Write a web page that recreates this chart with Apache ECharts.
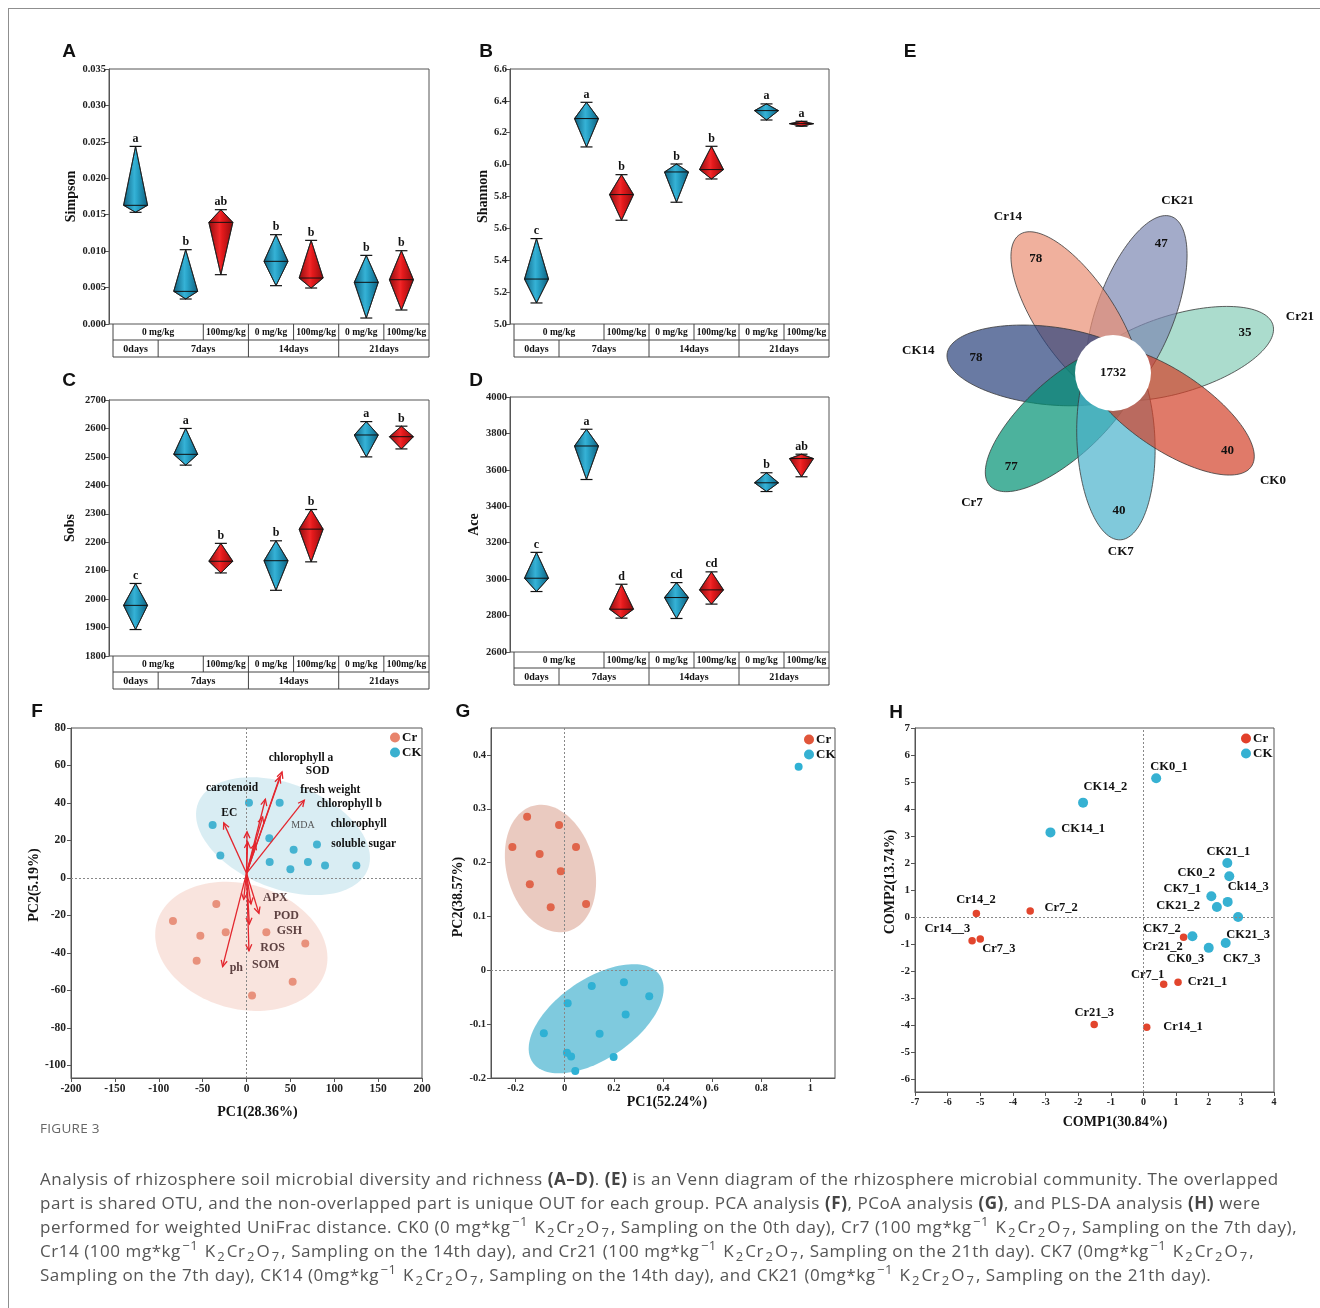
<!DOCTYPE html>
<html><head><meta charset="utf-8">
<script src="https://cdn.jsdelivr.net/npm/echarts@6/dist/echarts.min.js"></script>
<style>
html,body{margin:0;padding:0;background:#fff;}
#wrap{position:relative;width:1320px;height:1308px;overflow:hidden;background:#fff;}
#chart{position:absolute;left:0;top:0;width:1320px;height:1308px;}
#frame{position:absolute;left:8px;top:8px;width:1400px;height:1400px;border-top:1.5px solid #8f8f8f;border-left:1.5px solid #8f8f8f;pointer-events:none;}
#figlbl{position:absolute;left:40px;top:1119px;font-family:'Open Sans',Lato,sans-serif;font-size:13.5px;letter-spacing:0.3px;color:#666;}
#capbody{position:absolute;left:40px;top:1167px;font-family:'Open Sans',Lato,sans-serif;font-size:17px;letter-spacing:0.55px;line-height:24px;color:#555;white-space:nowrap;}
#capbody b{font-weight:bold;color:#444;}
#capbody sub,#capbody sup{font-size:13px;line-height:0;margin:0 1.5px;}
</style></head>
<body>
<div id="wrap">
<div id="chart"></div>
<div id="frame"></div>
<div id="figlbl">FIGURE 3</div>
<div id="capbody">Analysis of rhizosphere soil microbial diversity and richness <b>(A–D)</b>. <b>(E)</b> is an Venn diagram of the rhizosphere microbial community. The overlapped<br>part is shared OTU, and the non-overlapped part is unique OUT for each group. PCA analysis <b>(F)</b>, PCoA analysis <b>(G)</b>, and PLS-DA analysis <b>(H)</b> were<br>performed for weighted UniFrac distance. CK0 (0 mg*kg<sup>−1</sup> K<sub>2</sub>Cr<sub>2</sub>O<sub>7</sub>, Sampling on the 0th day), Cr7 (100 mg*kg<sup>−1</sup> K<sub>2</sub>Cr<sub>2</sub>O<sub>7</sub>, Sampling on the 7th day),<br>Cr14 (100 mg*kg<sup>−1</sup> K<sub>2</sub>Cr<sub>2</sub>O<sub>7</sub>, Sampling on the 14th day), and Cr21 (100 mg*kg<sup>−1</sup> K<sub>2</sub>Cr<sub>2</sub>O<sub>7</sub>, Sampling on the 21th day). CK7 (0mg*kg<sup>−1</sup> K<sub>2</sub>Cr<sub>2</sub>O<sub>7</sub>,<br>Sampling on the 7th day), CK14 (0mg*kg<sup>−1</sup> K<sub>2</sub>Cr<sub>2</sub>O<sub>7</sub>, Sampling on the 14th day), and CK21 (0mg*kg<sup>−1</sup> K<sub>2</sub>Cr<sub>2</sub>O<sub>7</sub>, Sampling on the 21th day).</div>
</div>
<script>
// ================= DATA =================
// Panels A-D: seven sample groups
const groupTreatment = ['CK','CK','Cr','CK','Cr','CK','Cr'];
const doseRow = [['0 mg/kg',2],['100mg/kg',1],['0 mg/kg',1],['100mg/kg',1],['0 mg/kg',1],['100mg/kg',1]];
const dayRow = [['0days',1],['7days',2],['14days',2],['21days',2]];

const simpsonMin = [0.01533,0.00343,0.00677,0.00526,0.00494,0.00082,0.00192];
const simpsonMid = [0.01629,0.00448,0.01395,0.00860,0.00631,0.00572,0.00608];
const simpsonMax = [0.02438,0.01020,0.01569,0.01226,0.01148,0.00942,0.01006];
const simpsonSig = ['a','b','ab','b','b','b','b'];

const shannonMin = [5.132,6.111,5.651,5.764,5.910,6.280,6.241];
const shannonMid = [5.282,6.289,5.812,5.954,5.969,6.339,6.257];
const shannonMax = [5.536,6.391,5.937,6.004,6.115,6.381,6.272];
const shannonSig = ['c','a','b','b','b','a','a'];

const sobsMin = [1893,2471,2092,2031,2131,2500,2528];
const sobsMid = [1978,2509,2133,2135,2246,2577,2571];
const sobsMax = [2055,2600,2196,2205,2315,2624,2608];
const sobsSig = ['c','a','b','b','b','a','b'];

const aceMin = [2932,3547,2786,2784,2863,3481,3562];
const aceMid = [3005,3731,2835,2899,2941,3529,3662];
const aceMax = [3147,3823,2972,2981,3040,3584,3686];
const aceSig = ['c','a','d','cd','cd','b','ab'];

// Panel E: Venn
const vennGroups = ['Cr21','CK21','Cr14','CK14','Cr7','CK7','CK0'];
const vennUnique = [35,47,78,78,77,40,40];
const vennShared = 1732;

// Panel F: PCA
const fCrX = [-34.4,-83.8,-52.6,-23.7,-56.8,22.6,67.0,52.6,6.3];
const fCrY = [-13.9,-23.0,-30.8,-29.0,-44.1,-29.0,-35.0,-55.3,-62.7];
const fCkX = [2.8,37.8,-38.6,-29.8,26.0,26.4,53.7,80.3,50.0,70.0,89.5,125.2];
const fCkY = [40.1,40.1,28.2,12.0,21.2,8.5,15.0,17.9,4.7,8.5,6.7,6.7];
// confidence ellipses: centre, half-axis u, half-axis v (data units)
const fEllipseCK = [41.6,22.3, 96.7,-17.7, -21.7,-26.0];
const fEllipseCr = [-5.9,-36.5, 96.2,-12.8, -19.5,-32.0];
const fLoadOrigin = [0, 2.5];
const fLoadNames = ['chlorophyll a','SOD','fresh weight','chlorophyll b','carotenoid','EC','MDA','chlorophyll','soluble sugar','APX','POD','GSH','ROS','SOM','ph'];
const fLoadX = [40.5,38.0,21.5,65.9,0.6,-26.0,10.1,18.4,1.3,-3.2,14.2,5.1,2.8,3.2,-27.2];
const fLoadY = [56.6,54.0,42.0,41.5,24.6,29.4,18.4,32.6,19.3,-11.4,-18.9,-13.9,-38.8,-24.6,-47.3];
const fLabelX = [62.1,81.1,95.5,117.2,-16.5,-19.6,64.4,127.8,133.5,32.9,45.4,48.8,29.8,21.8,-11.6];
const fLabelY = [64.2,57.1,46.8,39.7,48.0,34.7,27.8,28.7,17.9,-10.4,-20.3,-28.3,-37.5,-46.4,-47.8];
const fYTicks = [80,60,40,20,0,-20,-40,-60,-80,-100];

// Panel G: PCoA
const gCrX = [-0.153,-0.023,-0.213,-0.102,0.046,-0.016,-0.142,-0.057,0.087];
const gCrY = [0.285,0.270,0.229,0.216,0.229,0.184,0.160,0.117,0.123];
const gCkX = [0.952,0.110,0.241,0.344,0.012,0.248,-0.085,0.142,0.009,0.026,0.199,0.043];
const gCkY = [0.378,-0.029,-0.022,-0.048,-0.061,-0.082,-0.117,-0.118,-0.153,-0.160,-0.161,-0.187];
const gEllipseCr = [-0.058,0.189, 0.0721,-0.1163, -0.1711,-0.0221];
const gEllipseCK = [0.128,-0.090, 0.2588,0.0808, 0.0919,-0.0612];
const gXTicks = [-0.2,0,0.2,0.4,0.6,0.8,1];
const gYTicks = [-0.2,-0.1,0,0.1,0.2,0.3,0.4];

// Panel H: PLS-DA
const hCkX = [0.39,-1.85,-2.85,2.57,2.63,2.08,2.58,2.25,2.90,1.50,2.00,2.52];
const hCkY = [5.14,4.24,3.14,2.01,1.52,0.78,0.57,0.38,0.01,-0.70,-1.13,-0.95];
const hCrX = [-5.12,-3.47,-5.25,-5.00,1.23,0.62,1.06,-1.51,0.10];
const hCrY = [0.14,0.23,-0.87,-0.80,-0.74,-2.48,-2.40,-3.96,-4.07];
const hLabelNames = ['CK0_1','CK14_2','CK14_1','CK21_1','CK0_2','CK7_1','Ck14_3','CK21_2','CK7_2','CK21_3','CK0_3','CK7_3','Cr14_2','Cr7_2','Cr14__3','Cr7_3','Cr21_2','Cr7_1','Cr21_1','Cr21_3','Cr14_1'];
const hLabelX = [0.78,-1.17,-1.85,2.60,1.62,1.19,3.21,1.06,0.57,3.21,1.29,3.01,-5.13,-2.52,-6.01,-4.43,0.60,0.13,1.96,-1.51,1.21];
const hLabelY = [5.55,4.84,3.28,2.42,1.65,1.06,1.12,0.42,-0.42,-0.63,-1.53,-1.53,0.63,0.36,-0.42,-1.16,-1.10,-2.14,-2.40,-3.52,-4.05];
const hYTicks = [7,6,5,4,3,2,1,0,-1,-2,-3,-4,-5,-6];

// ================= STYLE / LAYOUT =================
const SERIF = '"Liberation Serif","Times New Roman",serif';
const SANS = '"Liberation Sans",Arial,sans-serif';
const chart = echarts.init(document.getElementById('chart'));
const grids=[], xAxes=[], yAxes=[], series=[];
const blueGrad = () => new echarts.graphic.LinearGradient(0,0,1,0,[{offset:0,color:'#0d5f7e'},{offset:0.45,color:'#36b2d6'},{offset:0.55,color:'#2aa6cb'},{offset:1,color:'#0d5f7e'}]);
const redGrad = () => new echarts.graphic.LinearGradient(0,0,1,0,[{offset:0,color:'#8e0b0d'},{offset:0.45,color:'#f3282a'},{offset:0.55,color:'#e51a1c'},{offset:1,color:'#8e0b0d'}]);

const TABLE_INSET = 4;
const divPanels = [
  {grid:{left:109,top:69,width:320,height:255}, min:0, max:0.035, interval:0.005, dec:3, fs:10.5, name:'Simpson', gap:31, lo:simpsonMin, mid:simpsonMid, hi:simpsonMax, sig:simpsonSig},
  {grid:{left:510,top:69,width:319,height:255}, min:5.0, max:6.6, interval:0.2, dec:1, fs:10.5, name:'Shannon', gap:20, lo:shannonMin, mid:shannonMid, hi:shannonMax, sig:shannonSig},
  {grid:{left:109,top:400,width:320,height:256}, min:1800, max:2700, interval:100, dec:0, fs:10.5, name:'Sobs', gap:32, lo:sobsMin, mid:sobsMid, hi:sobsMax, sig:sobsSig},
  {grid:{left:510,top:397,width:319,height:255}, min:2600, max:4000, interval:200, dec:0, fs:10.5, name:'Ace', gap:29, lo:aceMin, mid:aceMid, hi:aceMax, sig:aceSig}
];

divPanels.forEach((p,k)=>{
  const colW = (p.grid.width - TABLE_INSET)/7;
  p.xmin = -0.5 - TABLE_INSET/colW;
  grids.push(Object.assign({show:true,borderColor:'#555',borderWidth:1,backgroundColor:'transparent'},p.grid));
  xAxes.push({gridIndex:k,type:'value',min:p.xmin,max:6.5,axisLine:{show:false,onZero:false},axisTick:{show:false},axisLabel:{show:false},splitLine:{show:false}});
  yAxes.push({gridIndex:k,type:'value',min:p.min,max:p.max,interval:p.interval,
    axisLine:{show:true,onZero:false,lineStyle:{color:'#555',width:1}},axisTick:{show:true,length:4,lineStyle:{color:'#555'}},
    axisLabel:{fontFamily:SERIF,fontWeight:'bold',fontSize:p.fs,color:'#222',margin:3,formatter:v=>Number(v).toFixed(p.dec)},
    splitLine:{show:false},name:p.name,nameLocation:'middle',nameGap:p.gap,
    nameTextStyle:{fontFamily:SERIF,fontWeight:'bold',fontSize:14,color:'#111'}});
  const sig = p.sig;
  series.push({type:'custom',name:p.name,xAxisIndex:k,yAxisIndex:k,clip:false,z:5,
    data:p.lo.map((v,i)=>[i,p.lo[i],p.mid[i],p.hi[i]]),
    encode:{x:0,y:[1,2,3]},
    renderItem:(params,api)=>{
      const i = api.value(0);
      const lo = api.coord([i,api.value(1)]), mid = api.coord([i,api.value(2)]), hi = api.coord([i,api.value(3)]);
      const t = groupTreatment[i];
      const shift = i===0 ? 0 : (t==='CK' ? 5 : -5);
      const x = lo[0]+shift, hw=12, cw=6;
      return {type:'group',children:[
        {type:'polygon',shape:{points:[[x,hi[1]],[x+hw,mid[1]],[x,lo[1]],[x-hw,mid[1]]]},style:{fill:t==='CK'?blueGrad():redGrad(),stroke:'#1a1a1a',lineWidth:0.8}},
        {type:'line',shape:{x1:x-hw,y1:mid[1],x2:x+hw,y2:mid[1]},style:{stroke:'#111',lineWidth:1}},
        {type:'line',shape:{x1:x-cw,y1:hi[1],x2:x+cw,y2:hi[1]},style:{stroke:'#111',lineWidth:1.2}},
        {type:'line',shape:{x1:x-cw,y1:lo[1],x2:x+cw,y2:lo[1]},style:{stroke:'#111',lineWidth:1.2}},
        {type:'text',x:x,y:hi[1]-1.5,style:{text:sig[params.dataIndex],font:'bold 12px '+SERIF,fill:'#111',align:'center',verticalAlign:'bottom',textAlign:'center',textVerticalAlign:'bottom'}}
      ]};
    }});
});

// ---------- helpers for scatter panels ----------
function ellipseRender(color){
  return (params,api)=>{
    const c=[api.value(0),api.value(1)], u=[api.value(2),api.value(3)], v=[api.value(4),api.value(5)];
    const pts=[];
    for(let k=0;k<120;k++){const t=k/120*Math.PI*2;
      pts.push(api.coord([c[0]+u[0]*Math.cos(t)+v[0]*Math.sin(t), c[1]+u[1]*Math.cos(t)+v[1]*Math.sin(t)]));}
    return {type:'polygon',shape:{points:pts},style:{fill:color,stroke:'none'}};
  };
}
function textSeries(k,names,xs,ys,styleFn){
  return {type:'custom',name:'labels'+k,xAxisIndex:k,yAxisIndex:k,clip:false,z:8,silent:true,
    data:xs.map((x,i)=>[x,ys[i]]),
    renderItem:(params,api)=>{
      const p=api.coord([api.value(0),api.value(1)]);
      const st=styleFn(params.dataIndex);
      return {type:'text',x:p[0],y:p[1],style:{text:names[params.dataIndex],font:st.font,fill:st.fill,align:'center',verticalAlign:'middle',textAlign:'center',textVerticalAlign:'middle'}};
    }};
}
const zeroLines = {silent:true,symbol:'none',label:{show:false},lineStyle:{type:[2,2],color:'#888',width:1},data:[{xAxis:0},{yAxis:0}],animation:false};
function scatterAxisLabel(fs,fmt){return {fontFamily:SERIF,fontWeight:'bold',fontSize:fs,color:'#222',margin:5,formatter:fmt};}
const AXLINE = {onZero:false,lineStyle:{color:'#555'}};

// ---------- Panel F ----------
grids.push({left:71,top:728,width:351,height:350,show:true,borderColor:'#555',borderWidth:1,backgroundColor:'transparent'});
xAxes.push({gridIndex:4,type:'value',min:-200,max:200,interval:50,axisLine:AXLINE,axisTick:{length:4,lineStyle:{color:'#555'}},
  axisLabel:scatterAxisLabel(11.5),splitLine:{show:false},name:'PC1(28.36%)',nameLocation:'middle',nameGap:27,
  nameTextStyle:{fontFamily:SERIF,fontWeight:'bold',fontSize:14,color:'#111',padding:[0,0,0,22]}});
yAxes.push({gridIndex:4,type:'value',min:-106.7,max:80,axisLine:AXLINE,
  axisTick:{length:4,lineStyle:{color:'#555'},customValues:fYTicks},
  axisLabel:Object.assign(scatterAxisLabel(11.5),{customValues:fYTicks}),splitLine:{show:false},
  name:'PC2(5.19%)',nameLocation:'middle',nameGap:26,
  nameTextStyle:{fontFamily:SERIF,fontWeight:'bold',fontSize:14,color:'#111',padding:[0,0,0,36]}});
series.push({type:'custom',name:'F ellipses',xAxisIndex:4,yAxisIndex:4,z:1,silent:true,data:[fEllipseCK],renderItem:ellipseRender('rgba(150,205,222,0.36)')});
series.push({type:'custom',name:'F ellipses2',xAxisIndex:4,yAxisIndex:4,z:1,silent:true,data:[fEllipseCr],renderItem:ellipseRender('rgba(236,170,152,0.32)')});
series.push({type:'scatter',name:'Cr',xAxisIndex:4,yAxisIndex:4,z:3,symbolSize:8,itemStyle:{color:'#e8917c',opacity:1},data:fCrX.map((x,i)=>[x,fCrY[i]])});
series.push({type:'scatter',name:'CK',xAxisIndex:4,yAxisIndex:4,z:3,symbolSize:8,itemStyle:{color:'#45b3d1',opacity:1},data:fCkX.map((x,i)=>[x,fCkY[i]]),markLine:zeroLines});
series.push({type:'custom',name:'F loadings',xAxisIndex:4,yAxisIndex:4,z:6,silent:true,clip:false,
  data:fLoadX.map((x,i)=>[x,fLoadY[i]]),
  renderItem:(params,api)=>{
    const o=api.coord(fLoadOrigin), p=api.coord([api.value(0),api.value(1)]);
    const ang=Math.atan2(p[1]-o[1],p[0]-o[0]), L=7, s=0.45;
    const a1=[p[0]-L*Math.cos(ang-s),p[1]-L*Math.sin(ang-s)], a2=[p[0]-L*Math.cos(ang+s),p[1]-L*Math.sin(ang+s)];
    const st={stroke:'#e3262e',lineWidth:1.3};
    return {type:'group',children:[
      {type:'line',shape:{x1:o[0],y1:o[1],x2:p[0],y2:p[1]},style:st},
      {type:'polyline',shape:{points:[a1,p,a2]},style:Object.assign({fill:null},st)}]};
  }});
series.push(textSeries(4,fLoadNames,fLabelX,fLabelY,i=>{
  const n=fLoadNames[i];
  if(n==='MDA') return {font:'10px '+SERIF,fill:'#555'};
  if(fLabelY[i]<0) return {font:'bold 12px '+SERIF,fill:'#5e4242'};
  return {font:'bold 11.5px '+SERIF,fill:'#111'};
}));

// ---------- Panel G ----------
grids.push({left:491,top:728,width:344,height:350,show:true,borderColor:'#555',borderWidth:1,backgroundColor:'transparent'});
const gFmt = v => (Math.abs(v)<1e-9?'0':(Math.abs(v-1)<1e-9?'1':Number(v).toFixed(1)));
xAxes.push({gridIndex:5,type:'value',min:-0.3,max:1.1,axisLine:AXLINE,
  axisTick:{length:4,lineStyle:{color:'#555'},customValues:gXTicks},
  axisLabel:Object.assign(scatterAxisLabel(10.5,gFmt),{customValues:gXTicks}),splitLine:{show:false},
  name:'PC1(52.24%)',nameLocation:'middle',nameGap:17,
  nameTextStyle:{fontFamily:SERIF,fontWeight:'bold',fontSize:14,color:'#111',padding:[0,0,0,8]}});
yAxes.push({gridIndex:5,type:'value',min:-0.2,max:0.45,axisLine:AXLINE,
  axisTick:{length:4,lineStyle:{color:'#555'},customValues:gYTicks},
  axisLabel:Object.assign(scatterAxisLabel(10.5,gFmt),{customValues:gYTicks}),splitLine:{show:false},
  name:'PC2(38.57%)',nameLocation:'middle',nameGap:22,
  nameTextStyle:{fontFamily:SERIF,fontWeight:'bold',fontSize:14,color:'#111',padding:[0,0,0,12]}});
series.push({type:'custom',name:'G ell1',xAxisIndex:5,yAxisIndex:5,z:1,silent:true,data:[gEllipseCr],renderItem:ellipseRender('rgba(214,150,130,0.5)')});
series.push({type:'custom',name:'G ell2',xAxisIndex:5,yAxisIndex:5,z:1,silent:true,data:[gEllipseCK],renderItem:ellipseRender('rgba(60,175,205,0.66)')});
series.push({type:'scatter',name:'Cr',xAxisIndex:5,yAxisIndex:5,z:3,symbolSize:8,itemStyle:{color:'#e0654b',opacity:1},data:gCrX.map((x,i)=>[x,gCrY[i]])});
series.push({type:'scatter',name:'CK',xAxisIndex:5,yAxisIndex:5,z:3,symbolSize:8,itemStyle:{color:'#2fb1d4',opacity:1},data:gCkX.map((x,i)=>[x,gCkY[i]]),markLine:zeroLines});

// ---------- Panel H ----------
grids.push({left:915,top:728,width:359,height:364,show:true,borderColor:'#555',borderWidth:1,backgroundColor:'transparent'});
xAxes.push({gridIndex:6,type:'value',min:-7,max:4,interval:1,axisLine:AXLINE,axisTick:{length:4,lineStyle:{color:'#555'}},
  axisLabel:scatterAxisLabel(10),splitLine:{show:false},name:'COMP1(30.84%)',nameLocation:'middle',nameGap:23,
  nameTextStyle:{fontFamily:SERIF,fontWeight:'bold',fontSize:14,color:'#111',padding:[0,0,0,41]}});
yAxes.push({gridIndex:6,type:'value',min:-6.46,max:7,axisLine:AXLINE,
  axisTick:{length:4,lineStyle:{color:'#555'},customValues:hYTicks},
  axisLabel:Object.assign(scatterAxisLabel(11),{customValues:hYTicks}),splitLine:{show:false},
  name:'COMP2(13.74%)',nameLocation:'middle',nameGap:17,
  nameTextStyle:{fontFamily:SERIF,fontWeight:'bold',fontSize:14,color:'#111',padding:[0,0,0,56]}});
series.push({type:'scatter',name:'Cr',xAxisIndex:6,yAxisIndex:6,z:3,symbolSize:7.5,itemStyle:{color:'#e2452d',opacity:1},data:hCrX.map((x,i)=>[x,hCrY[i]])});
series.push({type:'scatter',name:'CK',xAxisIndex:6,yAxisIndex:6,z:3,symbolSize:10,itemStyle:{color:'#36b1d2',opacity:1},data:hCkX.map((x,i)=>[x,hCkY[i]]),markLine:zeroLines});
series.push(textSeries(6,hLabelNames,hLabelX,hLabelY,()=>({font:'bold 12.5px '+SERIF,fill:'#111'})));

function legendAt(left,top,crColor,ckColor){
  return {orient:'vertical',left:left,top:top,itemWidth:10,itemHeight:10,itemGap:2,padding:0,icon:'circle',selectedMode:false,
    textStyle:{fontFamily:SERIF,fontWeight:'bold',fontSize:13,color:'#111',padding:[0,0,0,-3]},
    data:[{name:'Cr',itemStyle:{color:crColor}},{name:'CK',itemStyle:{color:ckColor}}]};
}

chart.setOption({
  animation:false,
  grid:grids, xAxis:xAxes, yAxis:yAxes, series:series,
  legend:[legendAt(390,731,'#e8846c','#3ab0cf'),legendAt(804,733,'#e0553a','#36b1d2'),legendAt(1241,732,'#e2402a','#36b1d2')]
});

// ================= GRAPHICS (panel letters, tables, Venn) =================
const gfx = [];
const letters = [['A',69,52],['B',486,52],['C',69,381],['D',476,381],['E',910,52],['F',37,712],['G',463,712],['H',896,713]];
letters.forEach(l=>gfx.push({type:'text',x:l[1],y:l[2],style:{text:l[0],font:'bold 19px '+SANS,fill:'#111',align:'center',verticalAlign:'middle',textAlign:'center',textVerticalAlign:'middle'}}));

divPanels.forEach((p,k)=>{
  const px = v => chart.convertToPixel({gridIndex:k},[v,p.min]);
  const y0 = px(0)[1], y1=y0+16, y2=y1+17;
  const xL = px(-0.5)[0], xR = px(6.5)[0];
  const ln = (x1,ya,x2,yb)=>gfx.push({type:'line',shape:{x1:x1,y1:ya,x2:x2,y2:yb},style:{stroke:'#444',lineWidth:1}});
  ln(xL,y1,xR,y1); ln(xL,y2,xR,y2); ln(xL,y0,xL,y2); ln(xR,y0,xR,y2);
  const row=(cells,ya,yb,fs)=>{
    let c=0;
    cells.forEach((cell,j)=>{
      const a=px(c-0.5)[0], b=px(c+cell[1]-0.5)[0];
      if(j>0) ln(a,ya,a,yb);
      gfx.push({type:'text',x:(a+b)/2,y:(ya+yb)/2+0.5,style:{text:cell[0],font:'bold '+fs+'px '+SERIF,fill:'#111',align:'center',verticalAlign:'middle',textAlign:'center',textVerticalAlign:'middle'}});
      c+=cell[1];
    });
  };
  row(doseRow,y0,y1,9.5);
  row(dayRow,y1,y2,10);
});

// Venn (petal directions in degrees, counter-clockwise from east)
const vennAngles = [16.8,69.5,124,173.5,222.5,272.5,326];
const V = {cx:1113, cy:373, d:67, a:100, b:39, r:38};
const vennFill = ['rgba(135,205,184,0.7)','rgba(124,136,178,0.7)','rgba(234,142,116,0.7)','rgba(42,65,124,0.7)','rgba(0,146,116,0.7)','rgba(74,178,204,0.7)','rgba(211,66,42,0.7)'];
vennGroups.forEach((g,i)=>{
  const th=vennAngles[i]*Math.PI/180;
  const dx=Math.cos(th), dy=-Math.sin(th);
  const ex=V.cx+V.d*dx, ey=V.cy+V.d*dy, rot=Math.atan2(dy,dx);
  const pts=[];
  for(let k=0;k<144;k++){const t=k/144*Math.PI*2;const u=V.a*Math.cos(t), w=V.b*Math.sin(t);
    pts.push([ex+u*Math.cos(rot)-w*Math.sin(rot), ey+u*Math.sin(rot)+w*Math.cos(rot)]);}
  gfx.push({type:'polygon',z:10,shape:{points:pts},style:{fill:vennFill[i],stroke:'#3a3a3a',lineWidth:0.8}});
});
vennGroups.forEach((g,i)=>{
  const th=vennAngles[i]*Math.PI/180;
  const dx=Math.cos(th), dy=-Math.sin(th);
  const nd=138, ld=178+18*Math.abs(dx);
  gfx.push({type:'text',z:12,x:V.cx+nd*dx,y:V.cy+nd*dy,style:{text:String(vennUnique[i]),font:'bold 13px '+SERIF,fill:'#111',align:'center',verticalAlign:'middle',textAlign:'center',textVerticalAlign:'middle'}});
  gfx.push({type:'text',z:12,x:V.cx+ld*dx,y:V.cy+ld*dy,style:{text:g,font:'bold 13px '+SERIF,fill:'#111',align:'center',verticalAlign:'middle',textAlign:'center',textVerticalAlign:'middle'}});
});
gfx.push({type:'circle',z:11,shape:{cx:V.cx,cy:V.cy,r:V.r},style:{fill:'#fff',stroke:'none'}});
gfx.push({type:'text',z:12,x:V.cx,y:V.cy,style:{text:String(vennShared),font:'bold 13px '+SERIF,fill:'#111',align:'center',verticalAlign:'middle',textAlign:'center',textVerticalAlign:'middle'}});

chart.setOption({graphic:{elements:gfx}});
</script>
</body></html>
